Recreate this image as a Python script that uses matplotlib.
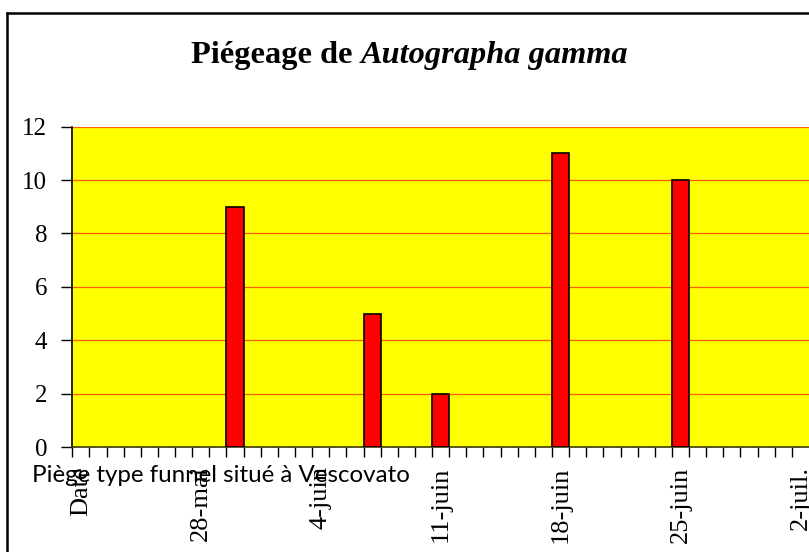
import datetime as dt
import matplotlib
matplotlib.use("Agg")
import matplotlib.pyplot as plt
from matplotlib.lines import Line2D

plt.rcParams['font.family'] = ['Liberation Serif', 'DejaVu Serif']

# categories: header cell then one day per category
start_day = dt.date(2000, 5, 22)
n_days = 42
month_fr = {5: 'mai', 6: 'juin', 7: 'juil.'}
categories = ['Date'] + [
    f"{(start_day + dt.timedelta(days=i)).day}-{month_fr[(start_day + dt.timedelta(days=i)).month]}"
    for i in range(n_days)
]
label_step = 7

# trap counts
trap_dates = ['30-mai', '7-juin', '11-juin', '18-juin', '25-juin']
captures = [9, 5, 2, 11, 10]

W, H = 809, 552
fig = plt.figure(figsize=(W / 100, H / 100), dpi=100)
fig.patch.set_facecolor('white')

left_px, right_px = 72.3, 809
top_px, bottom_px = 126.7, 447
ax = fig.add_axes([left_px / W, 1 - bottom_px / H,
                   (right_px - left_px) / W, (bottom_px - top_px) / H])
ax.set_facecolor('#FFFF00')

pos = [categories.index(d) for d in trap_dates]
ax.bar(pos, captures, width=1.0, color='#FF0000', edgecolor='black',
       linewidth=1.2, zorder=3)

ax.set_xlim(-0.5, len(categories) - 0.5)
ax.set_ylim(0, 12)
ax.set_yticks(range(0, 13, 2))
for y in range(2, 13, 2):
    ax.axhline(y, color='#FF5A00', linewidth=0.9, zorder=1)

# x ticks between categories, labels every 7th
ax.set_xticks([i - 0.5 for i in range(len(categories))], minor=False)
ax.set_xticklabels([])
ax.set_xticks(range(0, len(categories), label_step), minor=True)
ax.set_xticklabels(categories[::label_step], minor=True, rotation=90,
                   fontsize=19, va='top', ha='center')
ax.tick_params(axis='x', which='major', direction='out', length=7, width=1,
               color='black')
ax.tick_params(axis='x', which='minor', length=0, pad=14)
ax.tick_params(axis='y', direction='out', length=8, width=1, labelsize=18,
               pad=10)

for s in ['top', 'right']:
    ax.spines[s].set_visible(False)
ax.spines['left'].set_color('black')
ax.spines['bottom'].set_color('#3a3a00')
ax.spines['left'].set_linewidth(1.2)
ax.spines['bottom'].set_linewidth(1.2)

# chart frame
fig.add_artist(Line2D([7.5 / W, 7.5 / W], [0, 1 - 13 / H], color='black',
                      linewidth=1.8, transform=fig.transFigure))
fig.add_artist(Line2D([7.5 / W, 1], [1 - 13 / H, 1 - 13 / H], color='black',
                      linewidth=1.8, transform=fig.transFigure))

# title: bold + bold italic
fig.canvas.draw()
renderer = fig.canvas.get_renderer()
ty = 1 - 55 / H
t1 = fig.text(0, ty, 'Piégeage de ', fontsize=23.3, fontweight='bold',
              va='center', ha='left')
t2 = fig.text(0, ty, 'Autographa gamma', fontsize=23.3, fontweight='bold',
              style='italic', va='center', ha='left')
w1 = t1.get_window_extent(renderer).width
w2 = t2.get_window_extent(renderer).width
x0 = 410 - (w1 + w2) / 2
t1.set_x(x0 / W)
t2.set_x((x0 + w1) / W)

# footer note drawn over tick labels
fig.text(32 / W, 1 - 475 / H, 'Piège type funnel situé à Vescovato',
         fontsize=17.4, family=['Lato', 'DejaVu Sans'], va='center',
         ha='left', zorder=10)

fig.savefig('out.png', dpi=100)
